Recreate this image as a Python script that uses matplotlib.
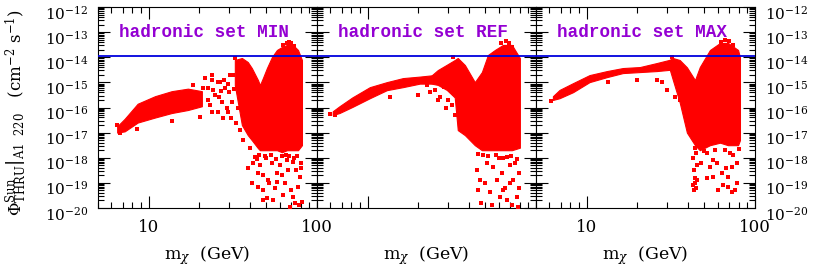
import numpy as np
import matplotlib
matplotlib.use('Agg')
import matplotlib.pyplot as plt
from matplotlib.ticker import LogLocator, NullFormatter, FixedLocator, FixedFormatter

plt.rcParams['font.family'] = ['DejaVu Serif']
plt.rcParams['mathtext.fontset'] = 'dejavuserif'

# ---------------- data ----------------
x_limits = (5, 100)
y_limits = (1e-20, 1e-12)
limit_flux = 1.1e-14
panel_titles = ['hadronic set MIN', 'hadronic set REF', 'hadronic set MAX']
x_ticks = [10, 100]
x_tick_labels = ['10', '100']
y_tick_exponents = [-20, -19, -18, -17, -16, -15, -14, -13, -12]

# log10(flux) values; dense low-mass branch
min_band_m = [6.5, 7.2, 8.6, 10.9, 13.7, 17.1, 20.7]
min_band_hi = [-16.75, -16.45, -15.85, -15.55, -15.35, -15.25, -15.35]
min_band_lo = [-17.00, -16.95, -16.60, -16.40, -16.22, -16.10, -15.95]

ref_band_m = [6.2, 6.8, 8.1, 10.3, 13.0, 16.2, 20.4, 24.0]
ref_band_hi = [-16.15, -15.95, -15.60, -15.19, -14.99, -14.83, -14.77, -14.72]
ref_band_lo = [-16.30, -16.22, -15.98, -15.63, -15.31, -15.19, -15.05, -15.05]

max_band_m = [6.3, 6.9, 8.3, 10.4, 13.2, 16.4, 20.7, 26.1, 31.2]
max_band_hi = [-15.55, -15.30, -15.03, -14.71, -14.55, -14.43, -14.39, -14.23, -14.10]
max_band_lo = [-15.70, -15.63, -15.39, -14.99, -14.79, -14.63, -14.59, -14.55, -14.50]

# dense high-mass region
min_core_m = [32.5, 35.8, 38.8, 41.0, 44.6, 45.8, 47.7, 50.4, 54.0, 57.8, 61.9, 66.3, 71.9, 77.1, 81.4]
min_core_hi = [-14.11, -14.03, -14.19, -14.43, -14.91, -15.11, -14.83, -14.43, -13.99, -13.71, -13.59, -13.51, -13.51, -13.71, -14.11]
min_core_lo = [-15.11, -16.70, -17.10, -17.30, -17.62, -17.70, -17.70, -17.70, -17.70, -17.70, -17.78, -17.70, -17.70, -17.70, -17.50]

ref_core_m = [24.0, 26.1, 29.5, 32.9, 34.3, 37.8, 43.3, 47.7, 51.8, 57.0, 63.6, 71.9, 80.2]
ref_core_hi = [-14.72, -14.51, -14.30, -14.11, -14.03, -14.31, -14.99, -14.59, -13.91, -13.71, -13.51, -13.51, -14.03]
ref_core_lo = [-15.05, -15.10, -15.30, -15.60, -16.90, -17.10, -17.50, -17.70, -17.70, -17.70, -17.70, -17.70, -17.60]

max_core_m = [31.2, 32.5, 35.7, 39.4, 44.0, 47.0, 54.0, 62.0, 69.1, 79.3, 81.4]
max_core_hi = [-14.10, -14.03, -14.11, -14.40, -14.91, -14.39, -13.71, -13.43, -13.43, -13.71, -14.00]
max_core_lo = [-14.50, -14.90, -15.80, -17.00, -17.50, -17.70, -17.50, -17.40, -17.50, -17.50, -17.30]

# sparse individual models
min_pts_m = [6.46, 6.71, 7.00, 8.49, 13.7, 20.1,
             18.3, 20.9, 23.7, 22.5, 23.1, 23.7, 21.5, 22.5, 23.9, 24.7, 25.7, 27.2, 28.3, 25.7,
             29.5, 27.6, 31.2, 32.5, 33.9, 31.6, 26.5, 30.0, 28.0, 24.0, 26.0, 29.0, 31.0, 33.0,
             30.5, 27.0, 29.8, 32.0, 34.0, 35.0, 36.5,
             38.8, 41.0, 44.6, 47.7, 47.7, 50.4, 54.7, 57.8, 64.5, 67.2, 71.9, 73.9, 77.1, 79.2,
             42.8, 54.0, 66.3, 61.9, 51.1, 44.6, 41.6, 81.4, 69.1, 60.0, 75.0, 50.0, 46.0, 70.0,
             80.0, 56.0, 63.0, 48.0, 52.0, 78.0, 65.0, 73.0, 45.0, 58.0,
             66.0, 70.0, 73.0, 63.0, 68.5,
             49.0, 53.0, 57.0, 62.0, 68.0, 72.0, 76.0, 80.5, 44.0, 40.0]
min_pts_f = [-16.70, -17.02, -16.82, -16.85, -16.55, -16.38,
             -15.11, -15.23, -14.91, -15.71, -15.90, -16.18, -14.83, -15.23, -14.71, -15.51, -14.99, -15.78, -15.23, -16.18,
             -16.18, -16.42, -15.78, -14.03, -14.31, -14.71, -15.00, -15.40, -14.90, -15.30, -15.60, -16.00, -16.40, -16.60,
             -14.70, -15.35, -15.05, -15.25, -16.00, -16.90, -17.30,
             -18.41, -19.01, -18.61, -19.29, -19.69, -19.61, -19.69, -18.97, -19.01, -18.49, -19.57, -19.81, -19.17, -18.77,
             -17.98, -18.22, -18.10, -18.69, -18.89, -19.17, -18.22, -19.77, -19.97, -18.30, -18.50, -18.00, -18.30, -19.30,
             -18.20, -19.20, -19.50, -18.70, -19.00, -19.90, -17.90, -18.00, -17.90, -18.60,
             -13.43, -13.45, -13.55, -13.50, -13.40,
             -17.95, -17.90, -18.05, -17.95, -17.92, -18.15, -17.95, -18.40, -18.05, -17.60]

ref_pts_m = [13.5, 19.8, 32.05, 22.5, 23.5, 25.0, 27.0, 28.5, 30.0, 31.5, 26.0, 29.0, 33.0, 35.5, 36.0, 6.0, 6.4,
             45.2, 46.4, 51.1, 53.2, 58.5, 62.8, 63.6, 66.9, 69.9, 71.9, 76.9, 78.0, 48.3, 55.5, 75.0, 66.9,
             44.5, 61.0, 79.0, 73.0, 50.0, 60.0, 70.0, 47.0, 55.0, 65.0,
             66.0, 69.0, 72.0, 62.0,
             45.0, 52.0, 58.0, 64.0, 71.0, 77.0, 79.5]
ref_pts_f = [-15.59, -15.51, -13.99, -15.10, -15.40, -15.30, -15.60, -15.20, -15.70, -15.90, -15.70, -16.00, -16.30, -16.60, -15.90, -16.25, -16.30,
             -19.29, -18.89, -18.22, -19.37, -18.89, -18.61, -19.29, -19.69, -19.01, -19.89, -19.57, -19.97, -17.90, -18.37, -18.22, -17.98,
             -18.49, -19.57, -18.60, -18.90, -19.00, -18.00, -18.30, -19.80, -19.90, -19.20,
             -13.35, -13.45, -13.60, -13.45,
             -17.85, -17.95, -17.90, -18.00, -17.95, -18.05, -19.20]

max_pts_m = [32.1, 13.3, 19.9, 26.1, 30.0, 33.5, 28.0, 35.7, 6.1,
             43.0, 43.5, 44.0, 43.3, 44.5, 45.0, 43.8, 44.2, 45.5, 43.1, 44.8,
             56.2, 64.2, 69.1, 72.8, 78.0, 63.3, 56.2, 72.8, 51.8, 78.0, 59.6, 51.8, 69.1, 54.0,
             73.9, 66.2, 48.0, 60.0, 76.0, 67.0,
             66.0, 70.0, 74.0, 63.0,
             50.0, 58.0, 71.0, 80.0]
max_pts_f = [-13.99, -14.99, -14.91, -14.91, -15.30, -15.60, -15.00, -15.71, -15.75,
             -18.00, -18.50, -19.00, -19.30, -17.80, -18.30, -18.80, -17.60, -18.90, -19.10, -19.20,
             -18.77, -19.09, -19.17, -19.37, -19.01, -18.61, -18.10, -18.37, -17.82, -18.22, -18.22, -18.81, -18.77, -18.37,
             -17.90, -17.70, -18.20, -19.30, -19.30, -18.40,
             -13.30, -13.35, -13.50, -13.40,
             -17.75, -17.70, -17.80, -17.65]

panels = [
    (min_band_m, min_band_lo, min_band_hi, min_core_m, min_core_lo, min_core_hi, min_pts_m, min_pts_f),
    (ref_band_m, ref_band_lo, ref_band_hi, ref_core_m, ref_core_lo, ref_core_hi, ref_pts_m, ref_pts_f),
    (max_band_m, max_band_lo, max_band_hi, max_core_m, max_core_lo, max_core_hi, max_pts_m, max_pts_f),
]

# ---------------- figure ----------------
fig, axes = plt.subplots(1, 3, figsize=(8.17, 2.72), dpi=100, sharey=True)
fig.subplots_adjust(left=98/817, right=755/817, top=1-7/272, bottom=1-208/272, wspace=0)

red = '#ff0000'
for i, (ax, p, title) in enumerate(zip(axes, panels, panel_titles)):
    bm, blo, bhi, cm, clo, chi, pm, pf = p
    ax.set_xscale('log')
    ax.set_yscale('log')
    ax.fill_between(bm, 10.0**np.array(blo), 10.0**np.array(bhi), color=red, lw=0.8, edgecolor=red, zorder=2)
    ax.fill_between(cm, 10.0**np.array(clo), 10.0**np.array(chi), color=red, lw=0.8, edgecolor=red, zorder=2)
    ax.scatter(pm, 10.0**np.array(pf), marker='s', s=5, c=red, linewidths=0, zorder=3)
    ax.axhline(limit_flux, color='#0000dd', lw=1.3, zorder=4)
    ax.text(6.7, 1e-13, title, color='#9400d3', fontsize=12.7, family='Liberation Mono',
            weight='bold', va='center', ha='left', zorder=5)
    ax.set_xlim(*x_limits)
    ax.set_ylim(*y_limits)
    ax.xaxis.set_major_locator(FixedLocator(x_ticks))
    ax.xaxis.set_major_formatter(FixedFormatter(x_tick_labels))
    ax.xaxis.set_minor_locator(LogLocator(base=10, subs=np.arange(2, 10), numticks=50))
    ax.xaxis.set_minor_formatter(NullFormatter())
    ax.yaxis.set_major_locator(FixedLocator([10.0**e for e in y_tick_exponents]))
    ax.yaxis.set_minor_locator(LogLocator(base=10, subs=np.arange(2, 10), numticks=100))
    ax.yaxis.set_minor_formatter(NullFormatter())
    ax.tick_params(which='both', direction='in', top=True, bottom=True, left=True, right=True,
                   width=0.8, colors='black')
    ax.tick_params(axis='x', labelsize=12, pad=8)
    ax.tick_params(axis='y', labelleft=False, labelright=False)
    ax.tick_params(which='major', length=8.5)
    ax.tick_params(which='minor', length=4.5)
    for s in ax.spines.values():
        s.set_linewidth(0.8)
    ax.set_xlabel(r'm$_\chi$  (GeV)', fontsize=12.5)
    ax.xaxis.set_label_coords(0.5, -0.18)
    if i == 1:
        ax.tick_params(axis='x', labelbottom=False)

# y tick labels on the outer sides (slightly below each tick, as in the reference)
for e in y_tick_exponents:
    lab = r'$10^{%d}$' % e
    axes[0].annotate(lab, xy=(0, 10.0**e), xycoords=('axes fraction', 'data'),
                     xytext=(-7, -3.5), textcoords='offset points',
                     ha='right', va='center_baseline', fontsize=11)
    axes[2].annotate(lab, xy=(1, 10.0**e), xycoords=('axes fraction', 'data'),
                     xytext=(7, -3.5), textcoords='offset points',
                     ha='left', va='center_baseline', fontsize=11)

fig.text(0.02, 0.585, r'$\left.\Phi^{\rm Sun}_{\rm THRU}\right|_{\rm A1\ \ 220}$   (cm$^{-2}$ s$^{-1}$)',
         rotation=90, va='center', ha='center', fontsize=12)

fig.savefig('out.png', dpi=100)
